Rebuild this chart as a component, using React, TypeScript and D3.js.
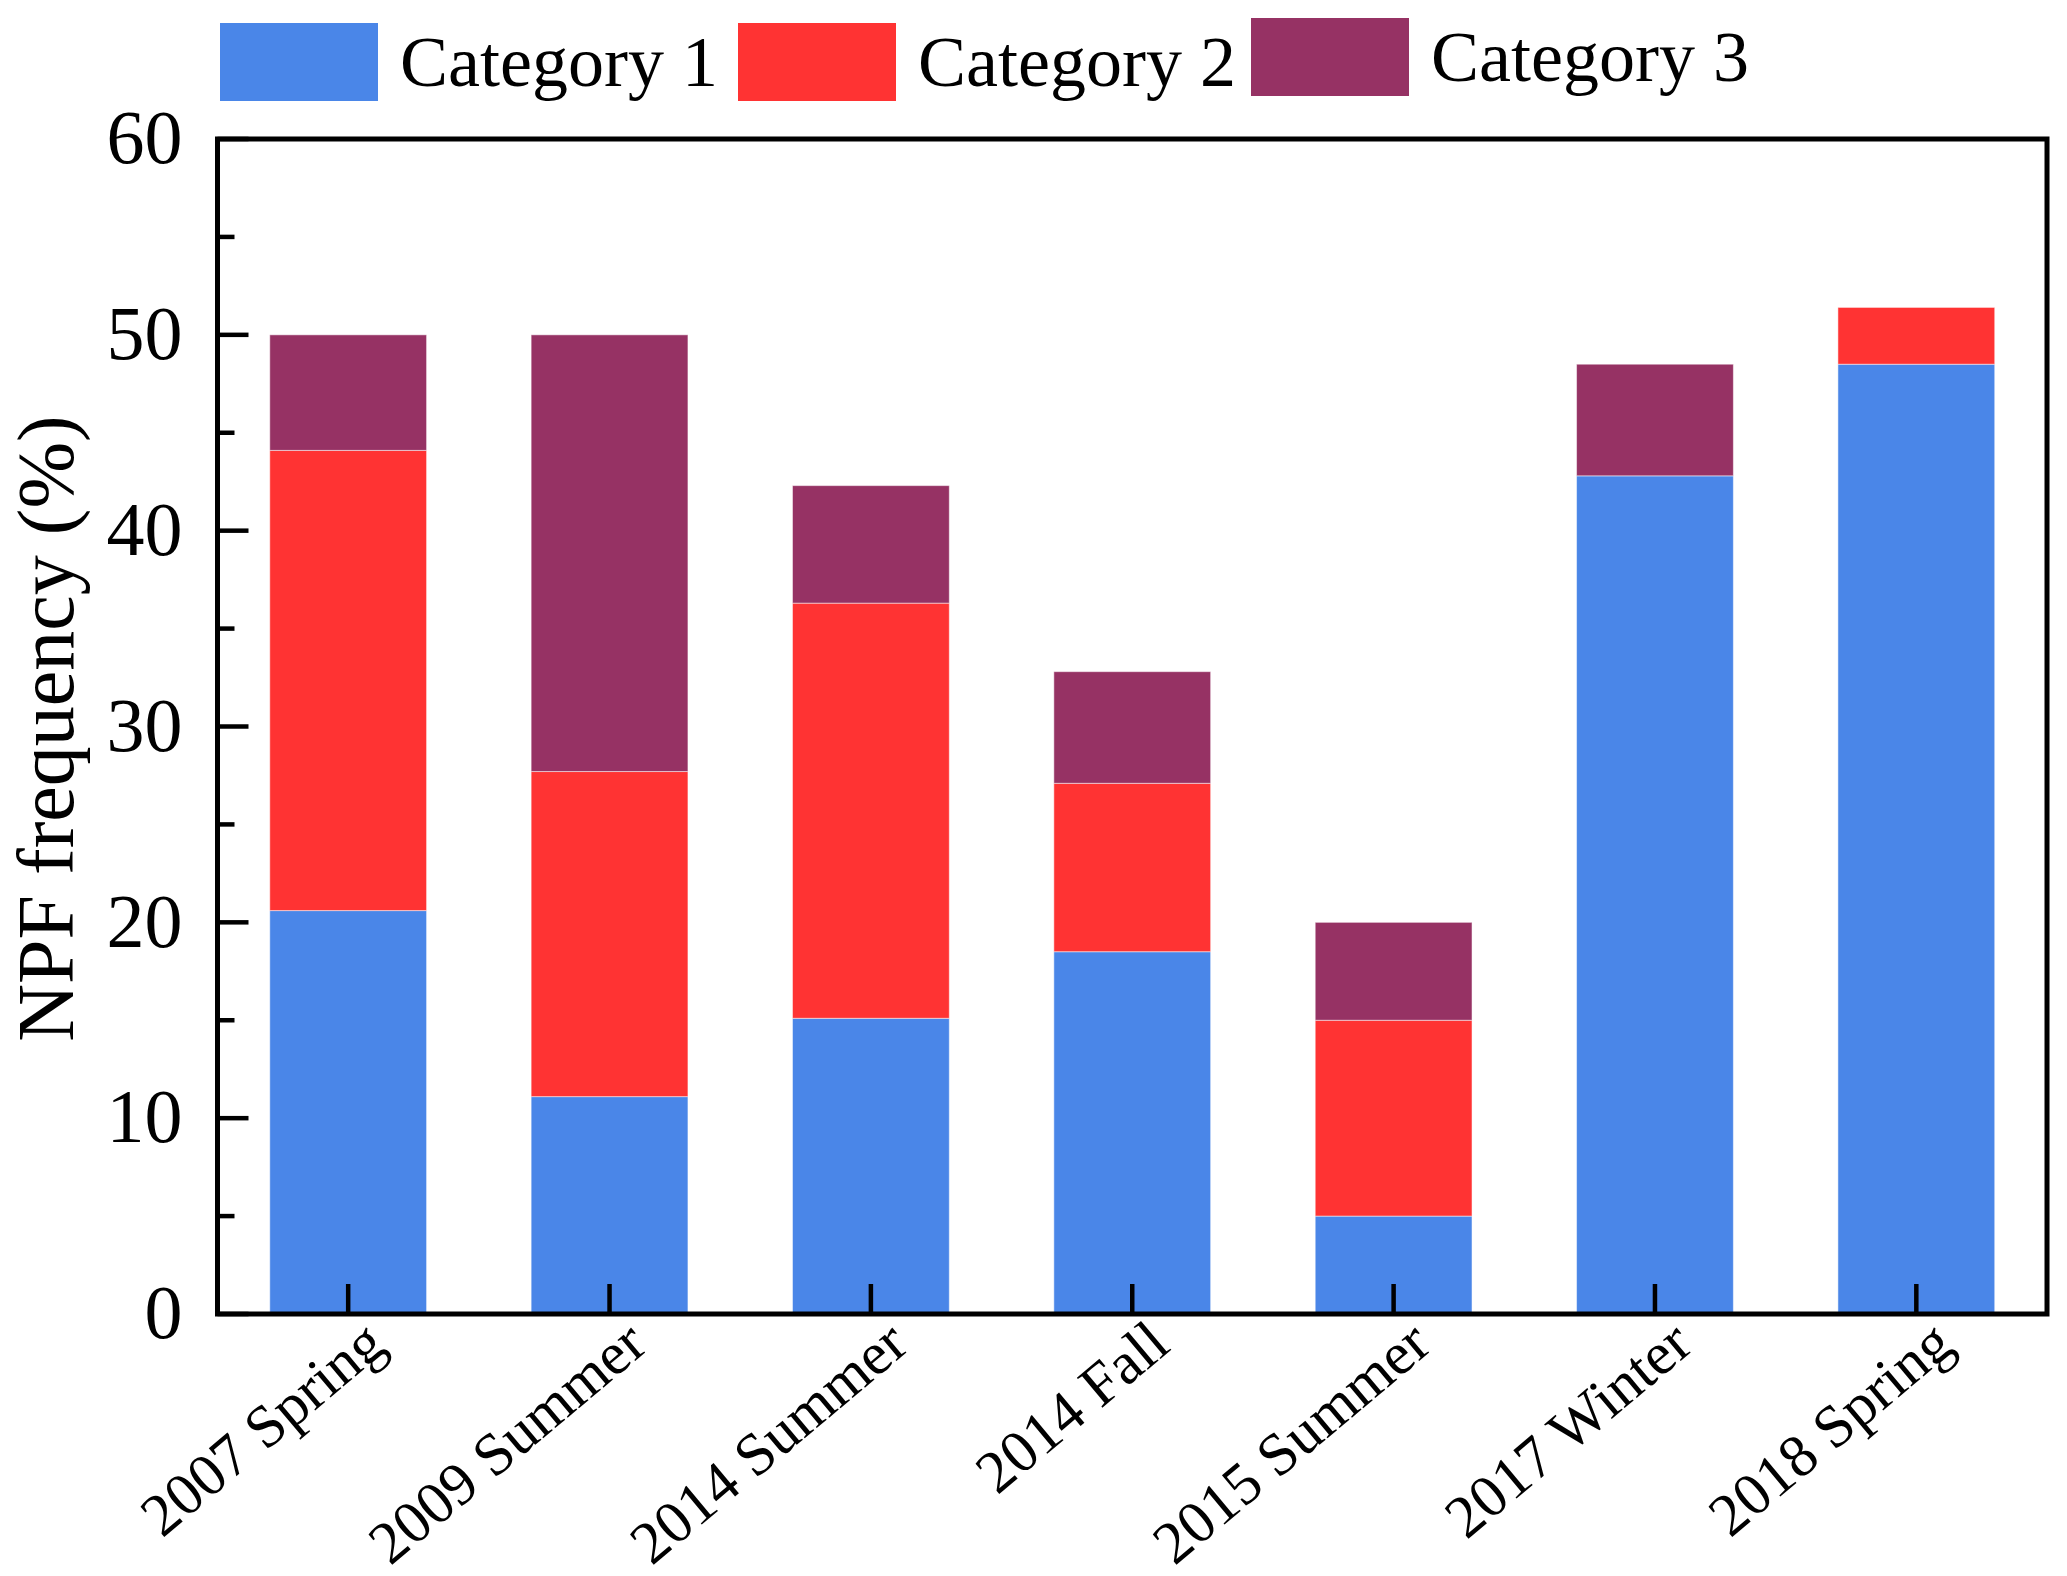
import { useEffect, useRef } from 'react'
import * as d3 from 'd3'

const seasons = ['2007 Spring', '2009 Summer', '2014 Summer', '2014 Fall', '2015 Summer', '2017 Winter', '2018 Spring']
const category1 = [20.6, 11.1, 15.1, 18.5, 5.0, 42.8, 48.5]
const category2 = [23.5, 16.6, 21.2, 8.6, 10.0, 0, 2.9]
const category3 = [5.9, 22.3, 6.0, 5.7, 5.0, 5.7, 0]
const seriesNames = ['Category 1', 'Category 2', 'Category 3']
const yTicks = [0, 10, 20, 30, 40, 50, 60]
const yMinorTicks = [5, 15, 25, 35, 45, 55]

const colors = ['#4A86E8', '#FF3333', '#963264']
const FONT = '"Liberation Serif", "Times New Roman", serif'

const W = 2067
const H = 1576

export default function App() {
  const ref = useRef<SVGSVGElement>(null)

  useEffect(() => {
    if (!ref.current) return
    d3.select(ref.current).selectAll('*').remove()
    render(ref.current)
  }, [])

  return (
    <svg
      ref={ref}
      width={W}
      height={H}
      style={{ position: 'absolute', left: 0, top: 0, background: '#fff' }}
    />
  )
}

function render(el: SVGSVGElement) {
  const margin = { top: 139, right: 20, bottom: 262, left: 217.5 }
  const inner = { w: W - margin.left - margin.right, h: H - margin.top - margin.bottom }

  const svg = d3.select(el).style('font-family', FONT)
  svg.append('rect').attr('width', W).attr('height', H).attr('fill', '#fff')

  const g = svg.append('g').attr('transform', `translate(${margin.left},${margin.top})`)

  const x = d3.scaleBand().domain(seasons).range([0, inner.w]).paddingInner(0.4).paddingOuter(0.2)
  const y = d3.scaleLinear().domain([0, 60]).range([inner.h, 0])

  const rows = seasons.map((s, i) => ({
    season: s,
    c1: category1[i],
    c2: category2[i],
    c3: category3[i],
  }))
  const stack = d3.stack<any>().keys(['c1', 'c2', 'c3'])(rows)

  // Bars
  stack.forEach((layer, li) => {
    g.append('g')
      .selectAll('rect')
      .data(layer.filter((d) => d[1] - d[0] > 0))
      .join('rect')
      .attr('x', (d) => x(d.data.season)!)
      .attr('y', (d) => y(d[1]))
      .attr('width', x.bandwidth())
      .attr('height', (d) => y(d[0]) - y(d[1]))
      .attr('fill', colors[li])
      .attr('stroke', '#fff')
      .attr('stroke-opacity', 0.5)
      .attr('stroke-width', 1)
  })

  // Frame
  g.append('rect')
    .attr('x', 0)
    .attr('y', 0)
    .attr('width', inner.w)
    .attr('height', inner.h)
    .attr('fill', 'none')
    .attr('stroke', '#000')
    .attr('stroke-width', 5)

  // Y ticks (inward)
  g.append('g')
    .selectAll('line')
    .data(yTicks)
    .join('line')
    .attr('x1', 0)
    .attr('x2', 31)
    .attr('y1', (d) => y(d))
    .attr('y2', (d) => y(d))
    .attr('stroke', '#000')
    .attr('stroke-width', 4.5)

  g.append('g')
    .selectAll('line')
    .data(yMinorTicks)
    .join('line')
    .attr('x1', 0)
    .attr('x2', 17)
    .attr('y1', (d) => y(d))
    .attr('y2', (d) => y(d))
    .attr('stroke', '#000')
    .attr('stroke-width', 4.5)

  g.append('g')
    .selectAll('text')
    .data(yTicks)
    .join('text')
    .attr('x', -35)
    .attr('y', (d) => y(d))
    .attr('dy', '0.32em')
    .attr('text-anchor', 'end')
    .attr('font-size', 76)
    .attr('fill', '#000')
    .text((d) => d)

  // X ticks (inward, upward)
  g.append('g')
    .selectAll('line')
    .data(seasons)
    .join('line')
    .attr('x1', (d) => x(d)! + x.bandwidth() / 2)
    .attr('x2', (d) => x(d)! + x.bandwidth() / 2)
    .attr('y1', inner.h)
    .attr('y2', inner.h - 30)
    .attr('stroke', '#000')
    .attr('stroke-width', 4.5)

  g.append('g')
    .selectAll('text')
    .data(seasons)
    .join('text')
    .attr('transform', (d) => `translate(${x(d)! + x.bandwidth() / 2 + 40},${inner.h + 35}) rotate(-40)`)
    .attr('text-anchor', 'end')
    .attr('font-size', 60)
    .attr('fill', '#000')
    .text((d) => d)

  // Y axis label
  svg.append('text')
    .attr('transform', `translate(73,${margin.top + inner.h / 2 + 2}) rotate(-90)`)
    .attr('text-anchor', 'middle')
    .attr('font-size', 80)
    .attr('fill', '#000')
    .text('NPF frequency (%)')

  // Legend
  const legendX = [220, 738, 1251]
  const legendTop = [23, 23, 18]
  seriesNames.forEach((name, i) => {
    svg.append('rect')
      .attr('x', legendX[i])
      .attr('y', legendTop[i])
      .attr('width', 158)
      .attr('height', 78)
      .attr('fill', colors[i])
    svg.append('text')
      .attr('x', legendX[i] + 180)
      .attr('y', legendTop[i] + 63)
      .attr('font-size', 72)
      .attr('fill', '#000')
      .text(name)
  })
}
